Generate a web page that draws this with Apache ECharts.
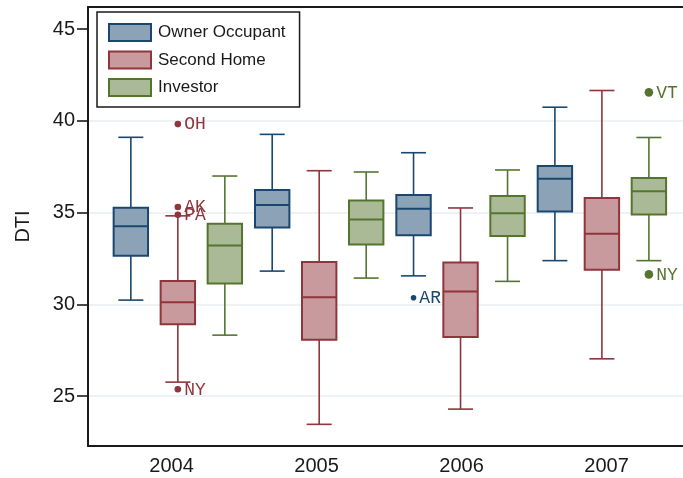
<!DOCTYPE html>
<html>
<head>
<meta charset="utf-8">
<script src="https://cdn.jsdelivr.net/npm/echarts@6/dist/echarts.min.js"></script>
<style>
html,body{margin:0;padding:0;background:#fff;}
#chart{width:683px;height:478px;}
</style>
</head>
<body>
<div id="chart"></div>
<script>
// ---- data ----
const years = [2004, 2005, 2006, 2007];
const yTicks = [25, 30, 35, 40, 45];
const gridTicks = [25, 30, 35, 40];
const seriesNames = ['Owner Occupant', 'Second Home', 'Investor'];
// [min, Q1, median, Q3, max] per year
const ownerOccupant = [
  [30.23, 32.65, 34.25, 35.26, 39.10],
  [31.81, 34.18, 35.41, 36.23, 39.26],
  [31.55, 33.77, 35.21, 35.95, 38.26],
  [32.38, 35.06, 36.84, 37.53, 40.74]
];
const secondHome = [
  [25.76, 28.92, 30.11, 31.27, 34.82],
  [23.46, 28.07, 30.38, 32.30, 37.28],
  [24.29, 28.22, 30.70, 32.28, 35.25],
  [27.03, 31.89, 33.85, 35.79, 41.65]
];
const investor = [
  [28.32, 31.13, 33.21, 34.39, 36.99],
  [31.43, 33.26, 34.62, 35.65, 37.21],
  [31.25, 33.72, 34.96, 35.90, 37.32],
  [32.38, 34.90, 36.16, 36.88, 39.09]
];
// outliers: [year, value, state]
const ownerOutliers = [[2006, 30.36, 'AR']];
const secondOutliers = [[2004, 39.82, 'OH'], [2004, 35.30, 'AK'], [2004, 34.88, 'PA'], [2004, 25.37, 'NY']];
const investorOutliers = [[2007, 41.55, 'VT'], [2007, 31.63, 'NY']];

// ---- styles ----
const strokes = ['#1a476f', '#90353b', '#55752f'];
const fills = ['#8ca3b7', '#c89a9d', '#aaba96'];
const offsets = [-47, 0, 47];
const dotSizes = [2.8, 3.3, 4.3];
const textColor = '#1a1a1a';
const frameColor = '#1a1a1a';

function boxRenderer(k) {
  return function (params, api) {
    const x = api.value(0);
    const pMin = api.coord([x, api.value(1)]);
    const pQ1 = api.coord([x, api.value(2)]);
    const pMed = api.coord([x, api.value(3)]);
    const pQ3 = api.coord([x, api.value(4)]);
    const pMax = api.coord([x, api.value(5)]);
    const cx = pMin[0] + offsets[k];
    const hw = 17.2, cw = 12.5;
    const ls = {stroke: strokes[k], lineWidth: 1.6};
    return {
      type: 'group',
      children: [
        {type: 'line', shape: {x1: cx, y1: pQ3[1], x2: cx, y2: pMax[1]}, style: ls},
        {type: 'line', shape: {x1: cx, y1: pQ1[1], x2: cx, y2: pMin[1]}, style: ls},
        {type: 'line', shape: {x1: cx - cw, y1: pMax[1], x2: cx + cw, y2: pMax[1]}, style: ls},
        {type: 'line', shape: {x1: cx - cw, y1: pMin[1], x2: cx + cw, y2: pMin[1]}, style: ls},
        {type: 'rect', shape: {x: cx - hw, y: pQ3[1], width: 2 * hw, height: pQ1[1] - pQ3[1]},
          style: {fill: fills[k], stroke: strokes[k], lineWidth: 2}},
        {type: 'line', shape: {x1: cx - hw, y1: pMed[1], x2: cx + hw, y2: pMed[1]},
          style: {stroke: strokes[k], lineWidth: 2}}
      ]
    };
  };
}

function outlierRenderer(k, list) {
  return function (params, api) {
    const p = api.coord([api.value(0), api.value(1)]);
    const cx = p[0] + offsets[k];
    const r = dotSizes[k];
    return {
      type: 'group',
      children: [
        {type: 'circle', shape: {cx: cx, cy: p[1], r: r}, style: {fill: strokes[k]}},
        {type: 'text', x: cx + r + 3, y: p[1] + 0.5,
          style: {text: list[params.dataIndex][2], fill: strokes[k],
            font: '18px "Liberation Mono", "DejaVu Sans Mono", monospace',
            verticalAlign: 'middle', align: 'left'}}
      ]
    };
  };
}

const boxSets = [ownerOccupant, secondHome, investor];
const outSets = [ownerOutliers, secondOutliers, investorOutliers];

const series = [];
boxSets.forEach(function (set, k) {
  series.push({
    name: seriesNames[k],
    type: 'custom',
    xAxisIndex: 0,
    yAxisIndex: 0,
    renderItem: boxRenderer(k),
    encode: {x: 0, y: [1, 2, 3, 4, 5]},
    itemStyle: {color: fills[k], borderColor: strokes[k]},
    data: set.map(function (v, i) { return [years[i]].concat(v); }),
    z: 3
  });
});
outSets.forEach(function (set, k) {
  series.push({
    name: seriesNames[k],
    type: 'custom',
    xAxisIndex: 0,
    yAxisIndex: 0,
    renderItem: outlierRenderer(k, set),
    encode: {x: 0, y: 1},
    itemStyle: {color: fills[k], borderColor: strokes[k]},
    data: set.map(function (o) { return [o[0], o[1]]; }),
    z: 4
  });
});

const chart = echarts.init(document.getElementById('chart'));
chart.setOption({
  animation: false,
  backgroundColor: '#fff',
  grid: {left: 88, right: 0, top: 7, bottom: 32, containLabel: false},
  legend: {
    orient: 'vertical',
    left: 97,
    top: 12,
    padding: [11, 14, 10, 11],
    itemGap: 8.5,
    itemWidth: 42,
    itemHeight: 17,
    backgroundColor: '#fff',
    borderColor: frameColor,
    borderWidth: 1.5,
    borderRadius: 0,
    selectedMode: false,
    textStyle: {fontFamily: 'Liberation Sans, Arial, sans-serif', fontSize: 17, color: textColor, lineHeight: 17, padding: [0, 0, 0, 2]},
    data: seriesNames.map(function (n, k) {
      return {name: n, icon: 'rect', itemStyle: {color: fills[k], borderColor: strokes[k], borderWidth: 2}};
    }),
    z: 10
  },
  xAxis: [
    {
      type: 'value',
      position: 'top',
      min: 2003.3644,
      max: 2007.5738,
      axisLine: {show: true, onZero: false, lineStyle: {color: frameColor, width: 2}},
      axisTick: {show: false},
      axisLabel: {show: false},
      splitLine: {show: false}
    },
    {
      type: 'value',
      position: 'bottom',
      min: 2003.4234,
      max: 2007.527,
      axisLine: {show: true, onZero: false, lineStyle: {color: frameColor, width: 2}},
      axisTick: {show: false},
      axisLabel: {
        customValues: years,
        fontFamily: 'Liberation Sans, Arial, sans-serif',
        fontSize: 20,
        color: textColor,
        margin: 10,
        formatter: function (v) { return String(v); }
      },
      splitLine: {show: false}
    }
  ],
  yAxis: [
    {
      type: 'value',
      min: 22.28,
      max: 46.2,
      name: 'DTI',
      nameLocation: 'middle',
      nameGap: 55,
      nameTextStyle: {fontFamily: 'Liberation Sans, Arial, sans-serif', fontSize: 20, color: textColor},
      axisLine: {show: true, onZero: false, lineStyle: {color: frameColor, width: 2}},
      axisTick: {show: true, customValues: yTicks, length: 11, lineStyle: {color: frameColor, width: 1.6}},
      axisLabel: {
        customValues: yTicks,
        fontFamily: 'Liberation Sans, Arial, sans-serif',
        fontSize: 20,
        color: textColor,
        margin: 13
      },
      splitLine: {show: false}
    },
    {
      type: 'value',
      min: 22.28,
      max: 46.2,
      position: 'left',
      axisLine: {show: false},
      axisTick: {show: false, customValues: gridTicks},
      axisLabel: {show: false, customValues: gridTicks},
      splitLine: {show: true, lineStyle: {color: '#e8eef1', width: 1.6}}
    }
  ],
  series: series
});
</script>
</body>
</html>
